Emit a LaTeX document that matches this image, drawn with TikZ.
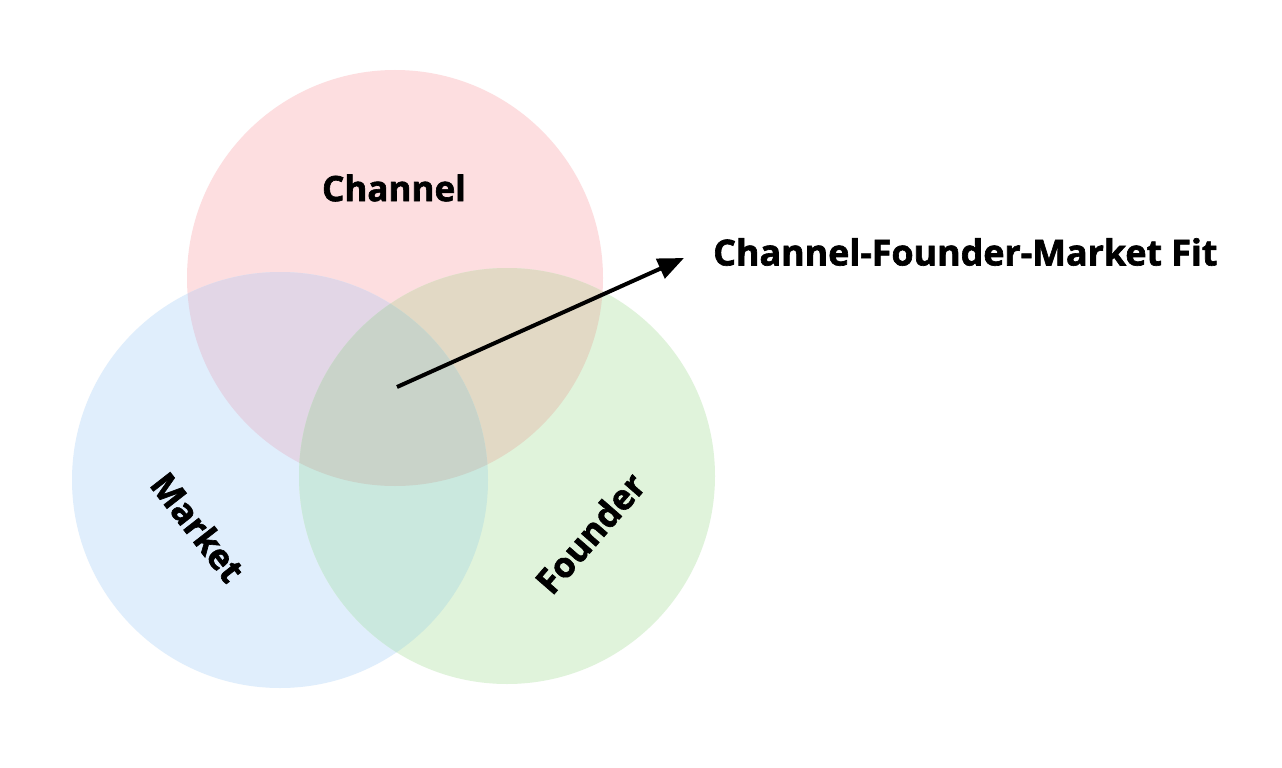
\documentclass[tikz,border=0pt]{standalone}
\usepackage{fontspec}
\setmainfont{Open Sans}
\newfontfamily\heavyfont[FakeBold=1.8]{Open Sans Bold}
\usetikzlibrary{arrows.meta}
\definecolor{colchan}{HTML}{FDDEE0}
\definecolor{colmark}{HTML}{E0EEFC}
\definecolor{colfoun}{HTML}{E0F3DB}
\definecolor{colcm}{HTML}{E2D6E6}
\definecolor{colcf}{HTML}{E2D9C5}
\definecolor{colmf}{HTML}{CAE8DE}
\definecolor{colcmf}{HTML}{C9D3C9}
\tikzset{
  lbl/.style={font=\heavyfont\fontsize{35}{40}\selectfont, text=black, inner sep=0pt},
}
\begin{document}
\begin{tikzpicture}[x=1pt,y=-1pt]
\useasboundingbox (0,0) rectangle (1282,768);
\fill[white] (0,0) rectangle (1282,768);
\def\C{(395,278) circle[radius=208]}
\def\M{(280,480) circle[radius=208]}
\def\F{(507,476) circle[radius=208]}
\fill[colchan] \C;
\fill[colmark] \M;
\fill[colfoun] \F;
\begin{scope}\clip \C; \fill[colcm] \M; \fill[colcf] \F; \end{scope}
\begin{scope}\clip \M; \fill[colmf] \F; \end{scope}
\begin{scope}\clip \C; \clip \M; \fill[colcmf] \F; \end{scope}
\node[lbl] (channel) at (394,188) {Channel};
\node[lbl, rotate=-52] (market) at (198,527) {Market};
\node[lbl, rotate=49] (founder) at (590,533) {Founder};
\node[lbl, anchor=west, font=\heavyfont\fontsize{35.8}{40}\selectfont] (fit) at (713,252) {Channel-Founder-Market Fit};
\coordinate (start) at (397,387);
\coordinate (tip) at (684,258);
\draw[line width=4pt, -{Triangle[length=26pt,width=21pt]}] (start) -- (tip);
\end{tikzpicture}
\end{document}
